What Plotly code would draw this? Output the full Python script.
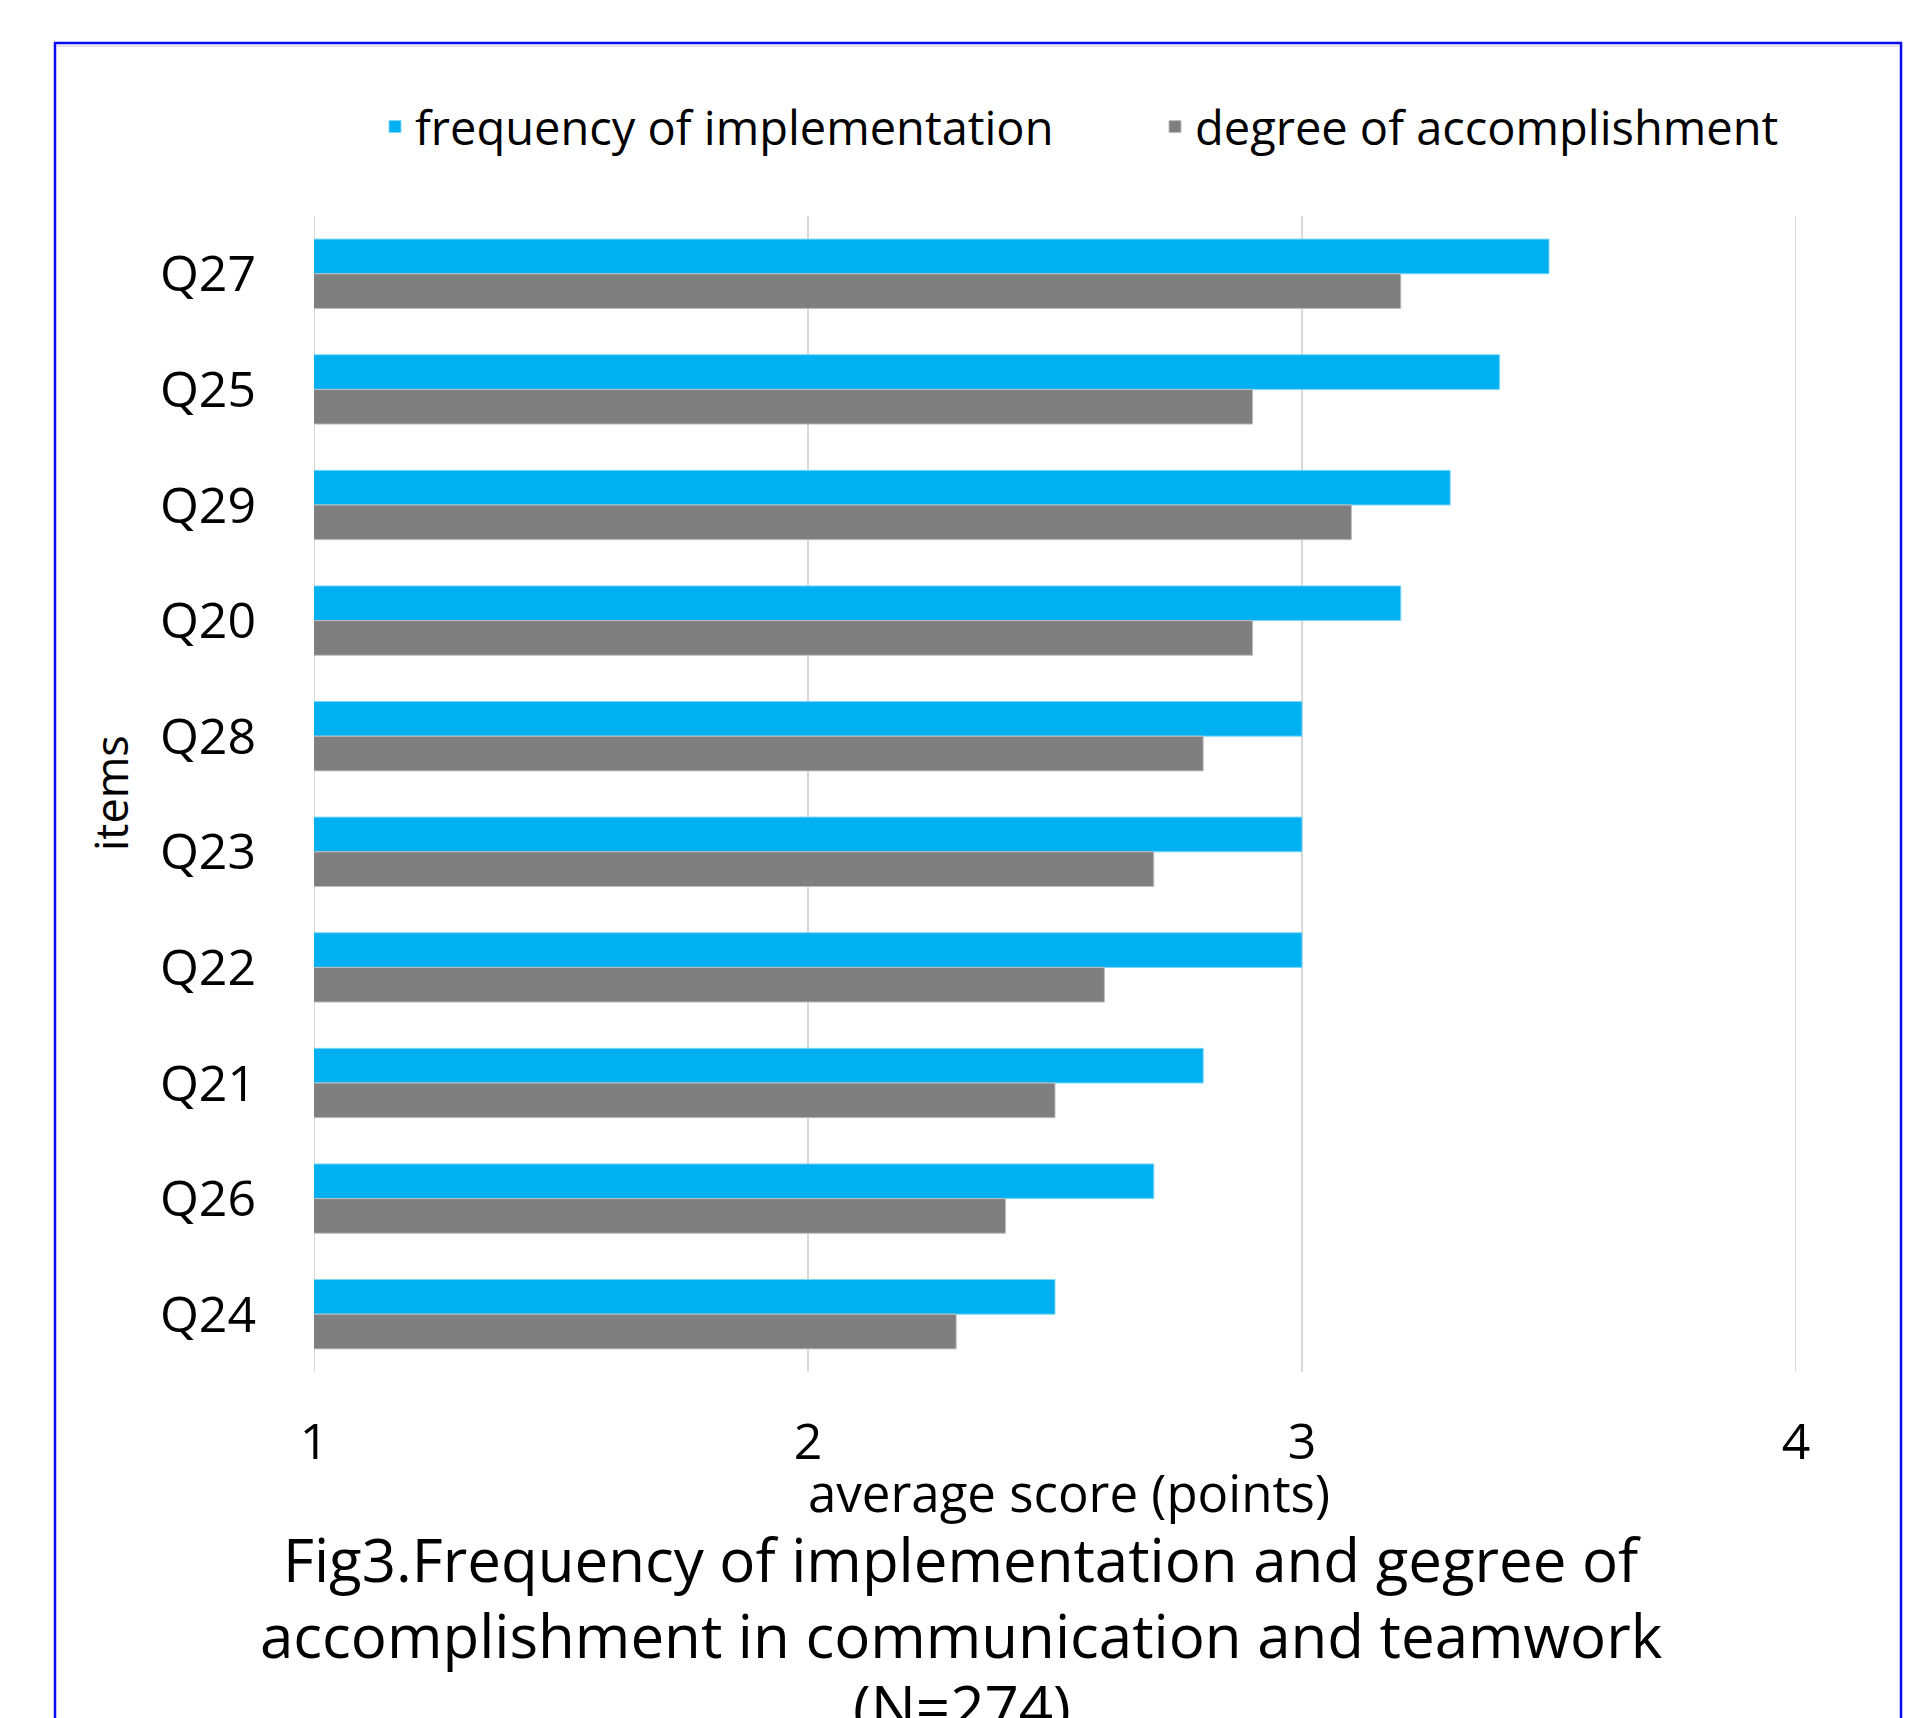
import plotly.graph_objects as go

items = ["Q27", "Q25", "Q29", "Q20", "Q28", "Q23", "Q22", "Q21", "Q26", "Q24"]
frequency_of_implementation = [3.5, 3.4, 3.3, 3.2, 3.0, 3.0, 3.0, 2.8, 2.7, 2.5]
degree_of_accomplishment = [3.2, 2.9, 3.1, 2.9, 2.8, 2.7, 2.6, 2.5, 2.4, 2.3]
x_ticks = [1, 2, 3, 4]

W, H = 1920, 1718
OFF = 8  # page body margin
L, R, T, B = 314 - OFF, 124 + OFF, 216 - OFF, 346 + OFF
pw, ph = W - L - R, H - T - B

def px(x):
    return (x - OFF - L) / pw

def py(y):
    return (H - B - (y - OFF)) / ph

FONT = "Open Sans"

fig = go.Figure()
fig.add_trace(go.Bar(
    y=items, x=frequency_of_implementation, orientation="h",
    name="frequency of implementation", legend="legend",
    marker=dict(color="#00B0F0", line=dict(color="#7FD7F7", width=1)),
))
fig.add_trace(go.Bar(
    y=items, x=degree_of_accomplishment, orientation="h",
    name="degree of accomplishment", legend="legend2",
    marker=dict(color="#7F7F7F", line=dict(color="#BFBFBF", width=1)),
))

legend_common = dict(orientation="h", xanchor="left", yanchor="middle",
                     font=dict(size=47, color="black"), bgcolor="rgba(0,0,0,0)")

fig.update_layout(
    width=W, height=H,
    margin=dict(l=L, r=R, t=T, b=B, autoexpand=False),
    paper_bgcolor="white", plot_bgcolor="white",
    barmode="group", bargap=0.4, bargroupgap=0,
    font=dict(family=FONT, size=46, color="black"),
    showlegend=True,
    legend=dict(x=px(416 - 41), y=py(127), **legend_common),
    legend2=dict(x=px(1196 - 41), y=py(127), **legend_common),
    xaxis=dict(
        range=[1, 4], tickvals=x_ticks, ticktext=[str(v) for v in x_ticks],
        showgrid=True, gridcolor="#D9D9D9", gridwidth=2,
        zeroline=False, showline=False, ticks="",
        tickfont=dict(size=50), ticklabelstandoff=36,
    ),
    yaxis=dict(
        categoryorder="array", categoryarray=items, autorange="reversed",
        showgrid=False, zeroline=False, showline=False, ticks="",
        tickfont=dict(size=50), ticklabelstandoff=57,
    ),
)

# gridlines at the range ends (plotly hides edge gridlines)
for xv in (x_ticks[0], x_ticks[-1]):
    fig.add_shape(type="line", xref="x", yref="paper", x0=xv, x1=xv, y0=0, y1=1,
                  line=dict(color="#D9D9D9", width=2), layer="below")

annotations = [
    dict(text="items", x=px(110), y=py(793), textangle=-90, font=dict(size=45)),
    dict(text="average score (points)", x=px(1069), y=py(1492), font=dict(size=51)),
    dict(text="Fig3.Frequency of implementation and gegree of", x=px(962), y=py(1559), font=dict(size=60)),
    dict(text="accomplishment in communication and teamwork", x=px(961), y=py(1635), font=dict(size=60)),
    dict(text="(N=274)", x=px(962), y=py(1706), font=dict(size=60)),
]
for a in annotations:
    fig.add_annotation(xref="paper", yref="paper", showarrow=False,
                       xanchor="center", yanchor="middle", **a)

fig.add_shape(type="rect", xref="paper", yref="paper",
              x0=px(55), x1=px(1901), y0=py(1780), y1=py(43),
              line=dict(color="#0A0AF5", width=2.5), layer="above")
fig.add_shape(type="line", xref="paper", yref="paper",
              x0=px(57), x1=px(1899), y0=py(46), y1=py(46),
              line=dict(color="#E6E6E6", width=2))

fig.write_html("out.html")
